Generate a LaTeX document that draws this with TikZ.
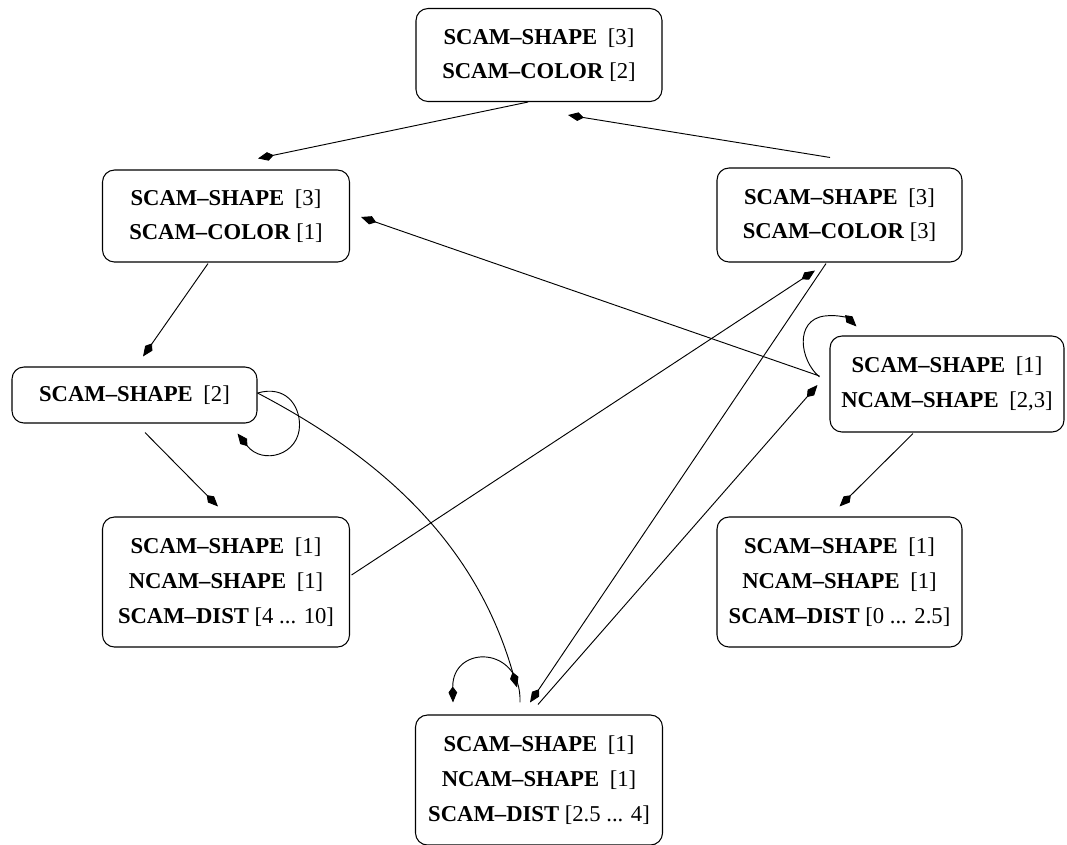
\documentclass[tikz,border=0pt]{standalone}
\usepackage{fontspec}
\setmainfont{Liberation Serif}
\usetikzlibrary{arrows.meta,calc}

\begin{document}
\begin{tikzpicture}[x=0.75pt,y=-0.75pt,
  state/.style={draw, rounded corners=9pt, line width=0.8pt, align=center,
    inner sep=0pt, font=\fontsize{17}{26}\selectfont},
  edge/.style={line width=0.7pt, -{Kite[length=12pt,width=6.5pt,inset=4.5pt]}}]
\useasboundingbox (0,0) rectangle (1067,844);

% states
\node[state, minimum width=184.5pt, minimum height=69.75pt] (n1) at (539,55)
  {\textbf{SCAM--SHAPE}\hspace{8pt}[3]\\\textbf{SCAM--COLOR} [2]};
\node[state, minimum width=185.25pt, minimum height=69pt] (n2) at (226,216)
  {\textbf{SCAM--SHAPE}\hspace{8pt}[3]\\\textbf{SCAM--COLOR} [1]};
\node[state, minimum width=183.75pt, minimum height=70.5pt] (n3) at (839.5,215)
  {\textbf{SCAM--SHAPE}\hspace{8pt}[3]\\\textbf{SCAM--COLOR} [3]};
\node[state, minimum width=183.75pt, minimum height=42pt] (n4) at (134.5,395)
  {\textbf{SCAM--SHAPE}\hspace{8pt}[2]};
\node[state, minimum width=175.5pt, minimum height=72pt] (n5) at (947,384)
  {\textbf{SCAM--SHAPE}\hspace{8pt}[1]\\\textbf{NCAM--SHAPE}\hspace{8pt}[2,3]};
\node[state, minimum width=185.25pt, minimum height=97.5pt] (n6) at (226,582)
  {\textbf{SCAM--SHAPE}\hspace{8pt}[1]\\\textbf{NCAM--SHAPE}\hspace{8pt}[1]\\\textbf{SCAM--DIST} [4 ... 10]};
\node[state, minimum width=183.75pt, minimum height=97.5pt] (n7) at (839.5,582)
  {\textbf{SCAM--SHAPE}\hspace{8pt}[1]\\\textbf{NCAM--SHAPE}\hspace{8pt}[1]\\\textbf{SCAM--DIST} [0 ... 2.5]};
\node[state, minimum width=185.25pt, minimum height=97.5pt] (n8) at (539,780)
  {\textbf{SCAM--SHAPE}\hspace{8pt}[1]\\\textbf{NCAM--SHAPE}\hspace{8pt}[1]\\\textbf{SCAM--DIST} [2.5 ... 4]};

% straight transitions
\draw[edge] ($(n1.south)+(-11,0)$) -- ($(n2.north)+(32,-11)$);
\draw[edge] ($(n3.north)+(-9.5,-10)$) -- ($(n1.south)+(29,13)$);
\draw[edge] ($(n5.west)+(-10,-8)$) -- ($(n2.east)+(11,1)$);
\draw[edge] ($(n2.south)+(-18,1)$) -- ($(n4.north)+(8.5,-10)$);
\draw[edge] ($(n4.south)+(10.5,9)$) -- ($(n6.north)+(-8,-10)$);
\draw[edge] ($(n5.south)+(-34,1)$) -- ($(n7.north)+(0,-10)$);
\draw[edge] ($(n6.east)+(1.5,-7)$) -- ($(n3.south)+(-24.5,8)$);
\draw[edge] ($(n3.south)+(-13.5,1)$) -- ($(n8.north)+(-9,-12)$);
\draw[edge] ($(n8.north)+(-1,-10)$) -- ($(n5.west)+(-12,1)$);

% curved transition
\draw[edge] ($(n4.east)+(0,-2)$) .. controls +(130,68) and +(-40,-140) .. ($(n8.north)+(-22,-27)$);

% self loops
\draw[edge] ($(n4.east)+(0,-2)$) .. controls +(28,-8) and +(0,-20) .. ++(42,32)
  .. controls +(0,30) and +(25,32) .. ($(n4.south east)+(-20,10)$);
\draw[edge] ($(n5.west)+(-10,-7)$) .. controls +(-20,-17) and +(-30,4) .. ++(5,-61)
  .. controls +(15,-2) and +(-7,-7) .. ($(n5.north west)+(27,-9)$);
\draw[edge] ($(n8.north)+(-19,-12)$) .. controls +(2,-58) and +(-1,-58) .. ($(n8.north)+(-86,-12)$);
\end{tikzpicture}
\end{document}
